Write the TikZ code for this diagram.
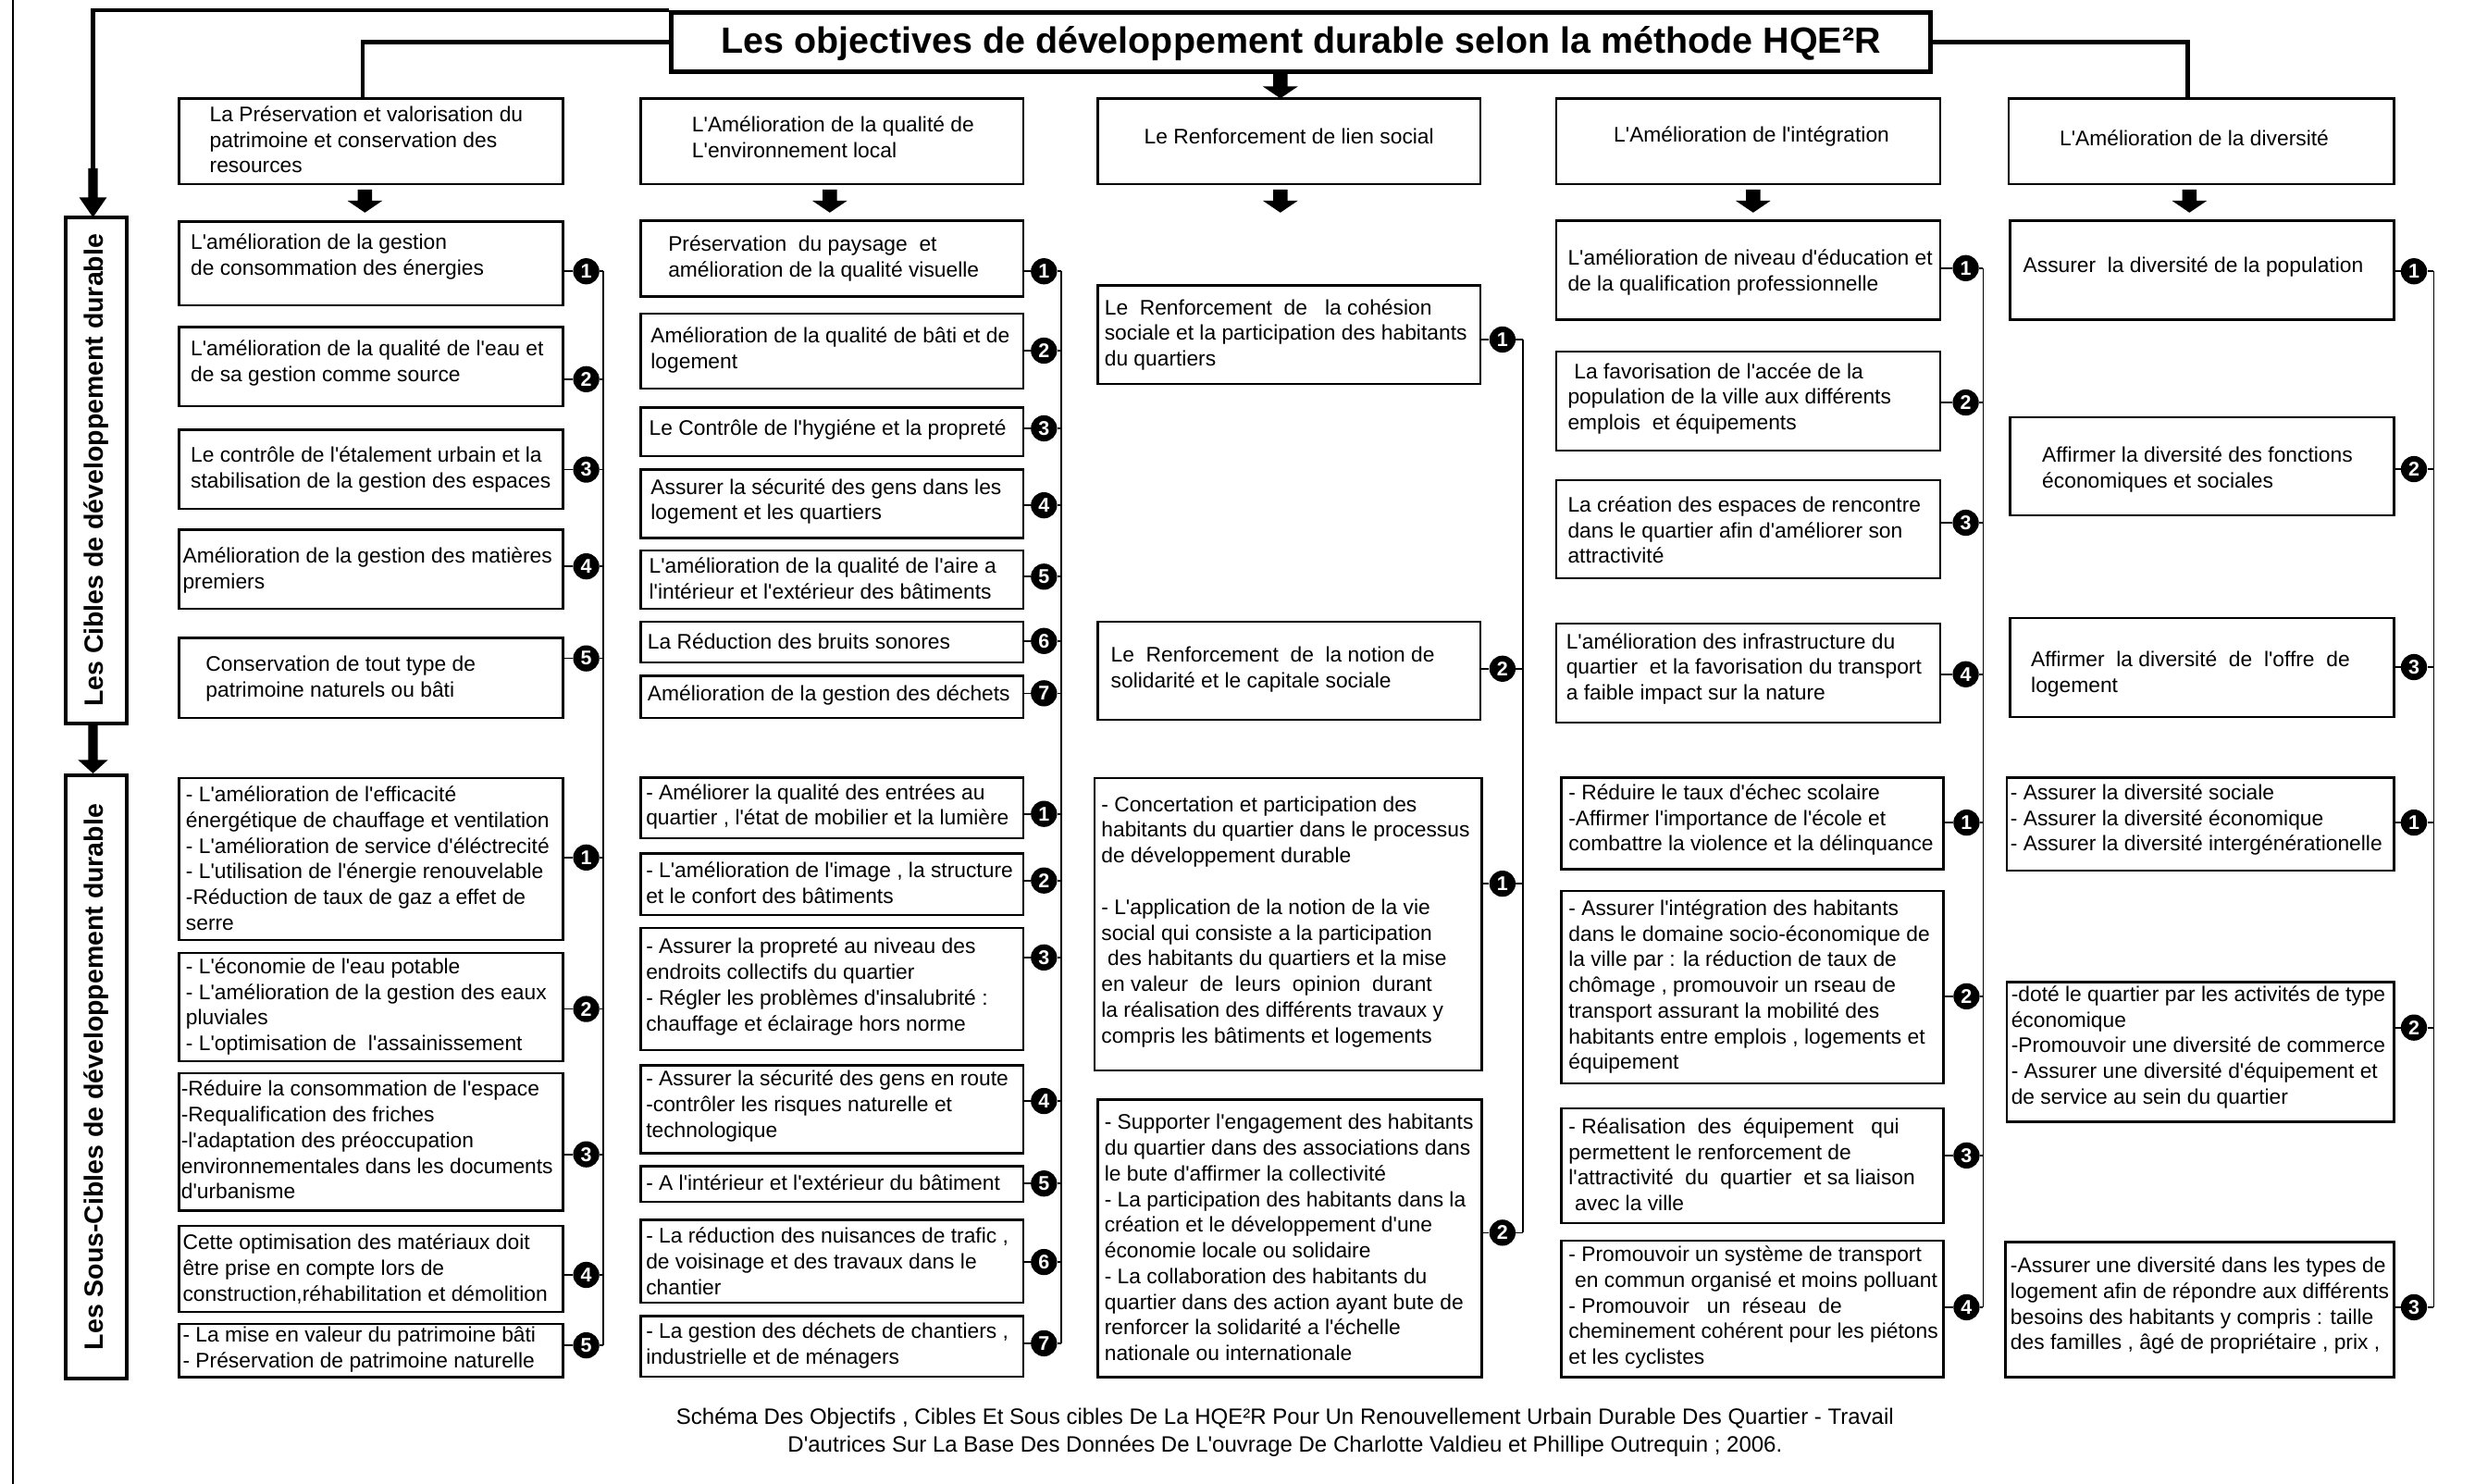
\documentclass[tikz,border=0pt]{standalone}
\usepackage{fontspec}
\setmainfont{Liberation Sans}[Ligatures=TeXOff]
\usetikzlibrary{fit}
\tikzset{
  cbox/.style={draw=black, line width=1.5pt, inner sep=0pt},
  ctext/.style={anchor=west, align=left, inner sep=0pt, font=\fontsize{13.3}{16.2}\selectfont},
  cctext/.style={anchor=center, align=center, inner sep=0pt, font=\fontsize{13.3}{16.2}\selectfont},
  cnum/.style={circle, fill=black, text=white, inner sep=0pt, minimum size=16.5pt, font=\fontsize{12.5}{12.5}\selectfont\bfseries},
  clink/.style={line width=1pt},
  cvert/.style={line width=1.1pt},
  tline/.style={line width=2.6pt},
  sidebox/.style={draw=black, line width=2.7pt, inner sep=0pt},
  sidetext/.style={rotate=90, inner sep=0pt, font=\fontsize{16.6}{16.6}\selectfont\bfseries},
}
\newcommand\mybox[8]{\node[cbox, fit={(#2,#3) (#4,#5)}] (#1) {};\node[ctext] (#1-t) at (#6,#7) {#8};}
\newcommand\mynum[5]{\node[cnum] (#1-n) at (#4,#3) {#2};\draw[clink] (#1-n.west) -- (#1-n.west -| #1.east);\draw[clink] (#1-n.east) -- (#1-n.east -| #5);}
\newcommand\barrow[3]{\fill[black] (#1-4.5,#2) -- (#1+4.5,#2) -- (#1+4.5,#3-7.5) -- (#1+11,#3-7.5) -- (#1,#3) -- (#1-11,#3-7.5) -- (#1-4.5,#3-7.5) -- cycle;}
\begin{document}
\begin{tikzpicture}[x=1pt,y=-1pt]
\fill[white] (0,0) rectangle (1560,935.4);
\useasboundingbox (0,0) rectangle (1560,935.4);
% left frame line
\draw[line width=1.2pt] (8,0) -- (8,935.4);
% title
\node[draw=black, line width=3pt, inner sep=0pt, fit={(423,7.8) (1217,45)}] (title) {};
\node[inner sep=0pt, font=\fontsize{23}{23}\selectfont\bfseries] (title-t) at (820,27.5) {Les objectives de développement durable selon la méthode HQE²R};
% top-level objectives
\node[cbox, fit={(113,62.2) (355,116)}] (A0) {};
\node[ctext] (A0-t) at (132,88) {La Préservation et valorisation du\\patrimoine et conservation des\\resources};
\node[cbox, fit={(404,62.2) (645,116)}] (B0) {};
\node[ctext] (B0-t) at (436,86.5) {L'Amélioration de la qualité de\\L'environnement local};
\node[cbox, fit={(692,62.2) (933,116)}] (C0) {};
\node[cctext] (C0-t) at (812.5,86) {Le Renforcement de lien social};
\node[cbox, fit={(981,62.2) (1223,116)}] (D0) {};
\node[cctext] (D0-t) at (1104,86) {L'Amélioration de l'intégration};
\node[cbox, fit={(1266,62.2) (1509,116)}] (E0) {};
\node[cctext] (E0-t) at (1383,87) {L'Amélioration de la diversité};
% title connectors
\coordinate (ja) at (228.5,62.2);
\coordinate (je) at (1379,62.2);
\coordinate (jl) at (58.6,107);
\draw[tline] (title.west) -| (ja);
\draw[tline] (title.east) -| (je);
\draw[tline] (title.north west) -| (jl);
\fill[black] (55.6,106) -- (61.6,106) -- (61.6,124.4) -- (67.3,124.4) -- (58.6,137) -- (49.9,124.4) -- (55.6,124.4) -- cycle;
\barrow{807}{46.5}{62}
\barrow{230}{119.5}{134}
\barrow{523}{119.5}{134}
\barrow{807}{119.5}{134}
\barrow{1105}{119.5}{134}
\barrow{1380}{119.5}{134}
% side boxes
\node[sidebox, fit={(41.4,137) (80,456)}] (cib) {};
\node[sidetext] (cib-t) at (cib.center) {Les Cibles de développement durable};
\node[sidebox, fit={(41.4,488.7) (80,869)}] (scib) {};
\node[sidetext] (scib-t) at (scib.center) {Les Sous-Cibles de développement durable};
\fill[black] (55.6,456) -- (61.6,456) -- (61.6,479) -- (68,479) -- (58.6,487.5) -- (49.2,479) -- (55.6,479) -- cycle;
% vertical lines
\coordinate (vA1) at (380,171); \coordinate (vA2) at (380,848);
\coordinate (vB1) at (669,171); \coordinate (vB2) at (669,846.7);
\coordinate (vC1) at (960,214); \coordinate (vC2) at (960,777);
\coordinate (vD1) at (1250,169); \coordinate (vD2) at (1250,824);
\coordinate (vE1) at (1534,171); \coordinate (vE2) at (1534,824);
\draw[cvert] (vA1) -- (vA2);
\draw[cvert] (vB1) -- (vB2);
\draw[cvert] (vC1) -- (vC2);
\draw[cvert] (vD1) -- (vD2);
\draw[cvert] (vE1) -- (vE2);
% ===== Column A =====
\mybox{A1}{113}{139.6}{355}{192.5}{120}{162}{L'amélioration de la gestion\\de consommation des énergies}
\mynum{A1}{1}{171}{369.5}{vA1}
\mybox{A2}{113}{206}{355}{256}{120}{229}{L'amélioration de la qualité de l'eau et\\de sa gestion comme source}
\mynum{A2}{2}{239}{369.5}{vA1}
\mybox{A3}{113}{271}{355}{320.8}{120}{296}{Le contrôle de l'étalement urbain et la\\stabilisation de la gestion des espaces}
\mynum{A3}{3}{296}{369.5}{vA1}
\mybox{A4}{113}{334}{355}{383.7}{115}{359.5}{Amélioration de la gestion des matières\\premiers}
\mynum{A4}{4}{357}{369.5}{vA1}
\mybox{A5}{113}{402}{355}{452.5}{129.5}{428}{Conservation de tout type de\\patrimoine naturels ou bâti}
\mynum{A5}{5}{415}{369.5}{vA1}
\mybox{A6}{113}{490.4}{355}{592.5}{117}{541}{- L'amélioration de l'efficacité\\énergétique de chauffage et ventilation\\- L'amélioration de service d'éléctrecité\\- L'utilisation de l'énergie renouvelable\\-Réduction de taux de gaz a effet de\\serre}
\mynum{A6}{1}{540.5}{369.5}{vA1}
\mybox{A7}{113}{600.6}{355}{669}{117}{634.5}{- L'économie de l'eau potable\\- L'amélioration de la gestion des eaux\\pluviales\\- L'optimisation de\ \ l'assainissement}
\mynum{A7}{2}{636}{369.5}{vA1}
\mybox{A8}{113}{676.4}{355}{763}{114}{718.5}{-Réduire la consommation de l'espace\\-Requalification des friches\\-l'adaptation des préoccupation\\environnementales dans les documents\\d'urbanisme}
\mynum{A8}{3}{727.6}{369.5}{vA1}
\mybox{A9}{113}{772.6}{355}{827}{115}{800}{Cette optimisation des matériaux doit\\être prise en compte lors de\\construction,réhabilitation et démolition}
\mynum{A9}{4}{803.6}{369.5}{vA1}
\mybox{A10}{113}{834.5}{355}{868}{115}{850.5}{- La mise en valeur du patrimoine bâti\\- Préservation de patrimoine naturelle}
\mynum{A10}{5}{848}{369.5}{vA1}
% ===== Column B =====
\mybox{B1}{404}{139.2}{645}{187}{421}{163}{Préservation\ \ du paysage\ \ et\\amélioration de la qualité visuelle}
\mynum{B1}{1}{171}{658}{vB1}
\mybox{B2}{404}{197.8}{645}{245}{410}{220.5}{Amélioration de la qualité de bâti et de\\logement}
\mynum{B2}{2}{221}{658}{vB1}
\mybox{B3}{404}{257}{645}{287.4}{409}{271}{Le Contrôle de l'hygiéne et la propreté}
\mynum{B3}{3}{270}{658}{vB1}
\mybox{B4}{404}{296}{645}{339}{410}{316}{Assurer la sécurité des gens dans les\\logement et les quartiers}
\mynum{B4}{4}{318.5}{658}{vB1}
\mybox{B5}{404}{347}{645}{383.7}{409}{364.5}{L'amélioration de la qualité de l'aire a\\l'intérieur et l'extérieur des bâtiments}
\mynum{B5}{5}{363.5}{658}{vB1}
\mybox{B6}{404}{392}{645}{417.5}{408}{404}{La Réduction des bruits sonores}
\mynum{B6}{6}{404}{658}{vB1}
\mybox{B7}{404}{426}{645}{452.5}{408}{438}{Amélioration de la gestion des déchets}
\mynum{B7}{7}{437}{658}{vB1}
\mybox{B8}{404}{490}{645}{528.4}{407}{508.5}{- Améliorer la qualité des entrées au\\quartier , l'état de mobilier et la lumière}
\mynum{B8}{1}{513}{658}{vB1}
\mybox{B9}{404}{538}{645}{576.7}{407}{556.5}{- L'amélioration de l'image , la structure\\et le confort des bâtiments}
\mynum{B9}{2}{555}{658}{vB1}
\mybox{B10}{404}{585}{645}{662}{407}{622}{- Assurer la propreté au niveau des\\endroits collectifs du quartier\\- Régler les problèmes d'insalubrité :\\chauffage et éclairage hors norme}
\mynum{B10}{3}{603.5}{658}{vB1}
\mybox{B11}{404}{671.5}{645}{727}{407}{697}{- Assurer la sécurité des gens en route\\-contrôler les risques naturelle et\\technologique}
\mynum{B11}{4}{694}{658}{vB1}
\mybox{B12}{404}{735}{645}{757.5}{407}{745.5}{- A l'intérieur et l'extérieur du bâtiment}
\mynum{B12}{5}{746}{658}{vB1}
\mybox{B13}{404}{769}{645}{821}{407}{795}{- La réduction des nuisances de trafic ,\\de voisinage et des travaux dans le\\chantier}
\mynum{B13}{6}{795.5}{658}{vB1}
\mybox{B14}{404}{829.6}{645}{867.7}{407}{848}{- La gestion des déchets de chantiers ,\\industrielle et de ménagers}
\mynum{B14}{7}{846.7}{658}{vB1}
% ===== Column C =====
\mybox{C1}{692}{179.8}{933}{242}{696}{211}{Le\ \ Renforcement\ \ de\ \ \ la cohésion\\sociale et la participation des habitants\\du quartiers}
\mynum{C1}{1}{214}{947}{vC1}
\mybox{C2}{692}{392}{933}{453.6}{700}{422}{Le\ \ Renforcement\ \ de\ \ la notion de\\solidarité et le capitale sociale}
\mynum{C2}{2}{421.5}{947}{vC1}
\mybox{C3}{690}{490.4}{934}{674.6}{694}{581}{- Concertation et participation des\\habitants du quartier dans le processus\\de développement durable\\\mbox{}\\- L'application de la notion de la vie\\social qui consiste a la participation\\\hspace*{4pt}des habitants du quartiers et la mise\\en\ valeur\ \ de\ \ leurs\ \ opinion\ \ durant\\la réalisation des différents travaux y\\compris les bâtiments et logements}
\mynum{C3}{1}{557}{947}{vC1}
\mybox{C4}{692}{693}{934}{868}{696}{780}{- Supporter l'engagement des habitants\\du quartier dans des associations dans\\le bute d'affirmer la collectivité\\- La participation des habitants dans la\\création et le développement d'une\\économie locale ou solidaire\\- La collaboration des habitants du\\quartier dans des action ayant bute de\\renforcer la solidarité a l'échelle\\nationale ou internationale}
\mynum{C4}{2}{777}{947}{vC1}
% ===== Column D =====
\mybox{D1}{981}{139}{1223}{201.6}{988}{171.5}{L'amélioration de niveau d'éducation et\\de la qualification professionnelle}
\mynum{D1}{1}{169}{1239}{vD1}
\mybox{D2}{981}{221.6}{1223}{284}{988}{251.3}{\hspace*{4pt}La favorisation de l'accée de la\\population de la ville aux différents\\emplois\ \ et équipements}
\mynum{D2}{2}{253.7}{1239}{vD1}
\mybox{D3}{981}{302.7}{1223}{364.5}{988}{334}{La création des espaces de rencontre\\dans le quartier afin d'améliorer son\\attractivité}
\mynum{D3}{3}{329.5}{1239}{vD1}
\mybox{D4}{981}{393}{1223}{455.5}{987}{421.5}{L'amélioration des infrastructure du\\quartier\ \ et la favorisation du transport\\a faible impact sur la nature}
\mynum{D4}{4}{425}{1239}{vD1}
\mybox{D5}{984}{490}{1225}{548}{988.5}{516.7}{- Réduire le taux d'échec scolaire\\-Affirmer l'importance de l'école et\\combattre la violence et la délinquance}
\mynum{D5}{1}{518.5}{1239.5}{vD1}
\mybox{D6}{984}{561.6}{1225}{683}{988.5}{622}{- Assurer l'intégration des habitants\\dans le domaine socio-économique de\\la ville par : la réduction de taux de\\chômage , promouvoir un rseau de\\transport assurant la mobilité des\\habitants entre emplois , logements et\\équipement}
\mynum{D6}{2}{628}{1239.5}{vD1}
\mybox{D7}{984}{698.7}{1225}{771}{988.5}{734}{- Réalisation\ \ des\ \ équipement\ \ \ qui\\permettent le renforcement de\\l'attractivité\ \ du\ \ quartier\ \ et sa liaison\\\hspace*{4pt}avec la ville}
\mynum{D7}{3}{728.3}{1239.5}{vD1}
\mybox{D8}{984}{782}{1225}{868}{988.5}{824}{- Promouvoir un système de transport\\\hspace*{4pt}en commun organisé et moins polluant\\- Promouvoir\ \ \ un\ \ réseau\ \ de\\cheminement cohérent pour les piétons\\et les cyclistes}
\mynum{D8}{4}{824}{1239.5}{vD1}
% ===== Column E =====
\mybox{E1}{1267}{139}{1509}{201.6}{1275}{168}{Assurer\ \ la diversité de la population}
\mynum{E1}{1}{171}{1521.5}{vE1}
\mybox{E2}{1267}{263}{1509}{324.8}{1287}{295.8}{Affirmer la diversité des fonctions\\économiques et sociales}
\mynum{E2}{2}{295.7}{1521.5}{vE1}
\mybox{E3}{1267}{389.5}{1509}{452}{1280}{424.6}{Affirmer\ \ la diversité\ \ de\ \ l'offre\ \ de\\logement}
\mynum{E3}{3}{420.5}{1521.5}{vE1}
\mybox{E4}{1265}{490}{1509}{548.7}{1267}{516.7}{- Assurer la diversité sociale\\- Assurer la diversité économique\\- Assurer la diversité intergénérationelle}
\mynum{E4}{1}{518.5}{1521.5}{vE1}
\mybox{E5}{1265}{619}{1509}{707}{1267.5}{660}{-doté le quartier par les activités de type\\économique\\-Promouvoir une diversité de commerce\\- Assurer une diversité d'équipement et\\de service au sein du quartier}
\mynum{E5}{2}{647.7}{1521.5}{vE1}
\mybox{E6}{1264}{783}{1509}{868}{1267}{823}{-Assurer une diversité dans les types de\\logement afin de répondre aux différents\\besoins des habitants y compris : taille\\des familles , âgé de propriétaire , prix ,}
\mynum{E6}{3}{824}{1521.5}{vE1}
% caption
\node[align=center, inner sep=0pt, font=\fontsize{14}{17.5}\selectfont] (cap) at (810,903) {Schéma Des Objectifs , Cibles Et Sous cibles De La HQE²R Pour Un Renouvellement Urbain Durable Des Quartier - Travail\\D'autrices Sur La Base Des Données De L'ouvrage De Charlotte Valdieu et Phillipe Outrequin ; 2006.};
\end{tikzpicture}
\end{document}
